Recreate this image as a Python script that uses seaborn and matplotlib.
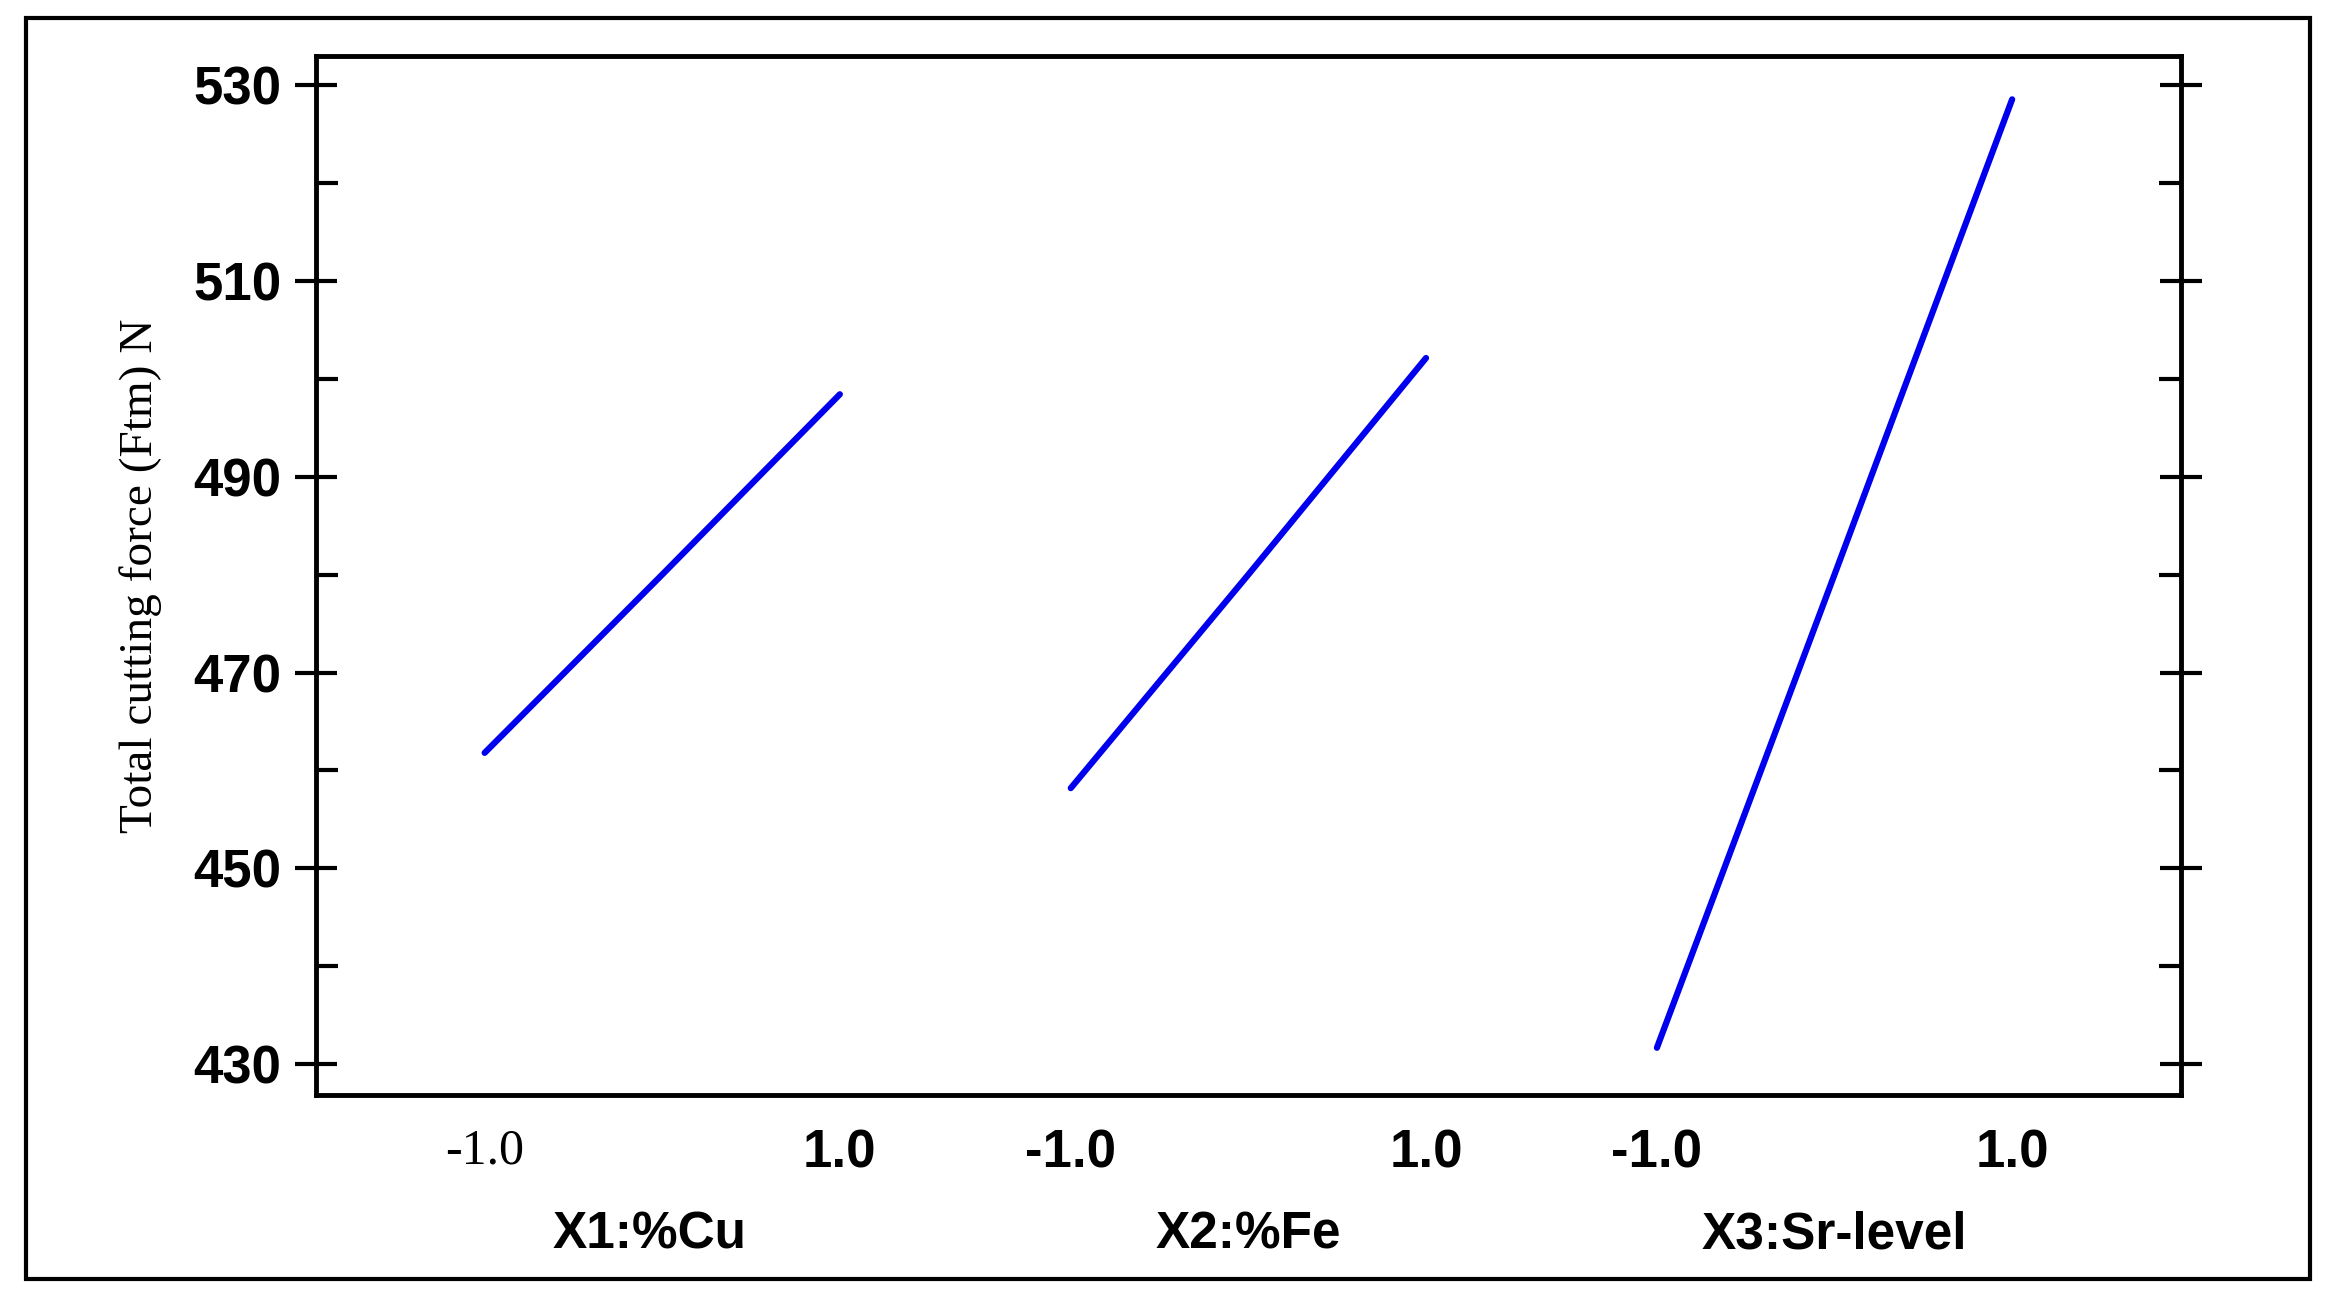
import numpy as np
import pandas as pd
import seaborn as sns
import matplotlib.pyplot as plt
from matplotlib.patches import Rectangle
import matplotlib.transforms as mtransforms

# Données (niveaux codés -1 / 0 / 1)
factors = ['X1:%Cu', 'X2:%Fe', 'X3:Sr-level']
coded = [-1.0, 0.0, 1.0]
ftm_cu = [461.8, 480.0, 498.4]
ftm_fe = [458.2, 480.0, 502.1]
ftm_sr = [431.7, 480.0, 528.5]
tick_labels = ['-1.0', '1.0', '-1.0', '1.0', '-1.0', '1.0']

spacing = 3.3  # écart entre les panneaux, en unités codées
rows = []
for i, (name, vals) in enumerate(zip(factors, [ftm_cu, ftm_fe, ftm_sr])):
    for c, v in zip(coded, vals):
        rows.append({'factor': name, 'x': i * spacing + c, 'ftm': v})
df = pd.DataFrame(rows)

sns.set_style('white')
plt.rcParams['font.family'] = ['Liberation Sans', 'DejaVu Sans']
plt.rcParams['text.color'] = 'black'
plt.rcParams['xtick.color'] = 'black'
plt.rcParams['ytick.color'] = 'black'
plt.rcParams['axes.labelcolor'] = 'black'

fig = plt.figure(figsize=(23.4, 13.08), dpi=100)
fig.patches.append(Rectangle((0.011, 0.022), 0.976, 0.964, transform=fig.transFigure,
                             fill=False, lw=3, ec='black'))
ax = fig.add_axes([0.135, 0.163, 0.797, 0.794])

sns.lineplot(data=df, x='x', y='ftm', hue='factor', palette=['#0000ee'] * 3,
             lw=4.5, legend=False, ax=ax)

ax.set_xlim(-1.95, 8.55)
ax.set_ylim(426.9, 532.9)
ax.set_yticks(np.arange(430, 531, 20))
ax.set_yticks(np.arange(440, 531, 20), minor=True)
ax.set_yticklabels([str(v) for v in range(430, 531, 20)], fontsize=38, fontweight='bold')
ax.tick_params(axis='y', which='major', direction='inout', length=30, width=3,
               left=True, right=True, pad=10)
ax.tick_params(axis='y', which='minor', direction='in', length=16, width=3,
               left=True, right=True)

xt = [i * spacing + c for i in range(3) for c in (-1, 1)]
ax.set_xticks(xt)
ax.set_xticklabels(tick_labels, fontsize=38, fontweight='bold')
ax.tick_params(axis='x', length=0, pad=24)
lbl0 = ax.get_xticklabels()[0]
lbl0.set_fontfamily('Liberation Serif')
lbl0.set_fontweight('normal')
lbl0.set_fontsize(36)

trans = mtransforms.blended_transform_factory(ax.transData, ax.transAxes)
centers = [-0.07, 3.3, 6.6]
for cx, name in zip(centers, factors):
    ax.text(cx, -0.135, name, transform=trans, ha='center', va='center',
            fontsize=37, fontweight='bold')

ax.set_xlabel('')
ax.set_ylabel('Total cutting force (Ftm) N', family='Liberation Serif', fontsize=34, labelpad=22)

for s in ax.spines.values():
    s.set_linewidth(3.5)
    s.set_color('black')

fig.savefig('out.png', dpi=100)
